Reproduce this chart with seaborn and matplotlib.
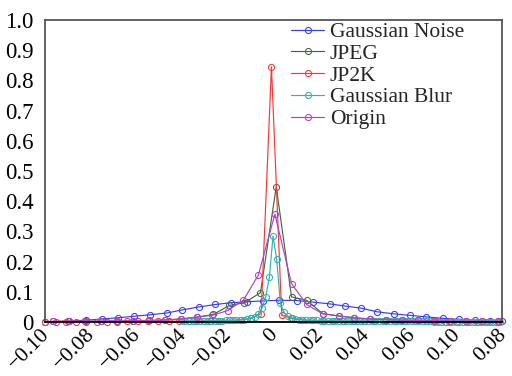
import numpy as np
import pandas as pd
import matplotlib
matplotlib.use("Agg")
import matplotlib.pyplot as plt
import matplotlib.transforms as mtransforms
import seaborn as sns

sns.set_style("white")
plt.rcParams['font.family'] = ['Liberation Serif', 'DejaVu Serif']

# ---------------- data ----------------
noise_x = [-0.1000, -0.0899, -0.0820, -0.0750, -0.0680, -0.0610, -0.0539, -0.0465,
           -0.0399, -0.0325, -0.0254, -0.0184, -0.0114, -0.0044, 0.0026, 0.0101,
           0.0171, 0.0246, 0.0311, 0.0382, 0.0452, 0.0526, 0.0596, 0.0667,
           0.0741, 0.0811, 0.0882, 0.0947, 0.1000]
noise_y = [0.001, 0.003, 0.006, 0.010, 0.014, 0.019, 0.024, 0.030,
           0.040, 0.050, 0.058, 0.064, 0.067, 0.070, 0.072, 0.071,
           0.066, 0.060, 0.053, 0.046, 0.034, 0.027, 0.022, 0.017,
           0.012, 0.009, 0.006, 0.004, 0.002]

jpeg_x = [-0.0965, -0.0895, -0.0825, -0.0754, -0.0684, -0.0614, -0.0544, -0.0474,
          -0.0404, -0.0333, -0.0263, -0.0193, -0.0127, -0.0057, 0.0012, 0.0079,
          0.0145, 0.0215, 0.0285, 0.0351, 0.0421, 0.0491, 0.0561, 0.0632,
          0.0702, 0.0772, 0.0842, 0.0912, 0.0982]
jpeg_y = [0.002, 0.002, 0.002, 0.003, 0.003, 0.004, 0.005, 0.007,
          0.010, 0.016, 0.025, 0.055, 0.064, 0.097, 0.448, 0.083,
          0.072, 0.028, 0.020, 0.014, 0.010, 0.008, 0.006, 0.005,
          0.004, 0.004, 0.003, 0.002, 0.002]

jp2k_x = [-0.0999, -0.0954, -0.0909, -0.0864, -0.0819, -0.0774, -0.0729, -0.0684,
          -0.0639, -0.0594, -0.0549, -0.0504, -0.0459, -0.0414, -0.0369, -0.0324,
          -0.0279, -0.0234, -0.0189, -0.0144, -0.0099, -0.0054, -0.0009, 0.0036,
          0.0081, 0.0126, 0.0171, 0.0216, 0.0261, 0.0306, 0.0351, 0.0396,
          0.0441, 0.0486, 0.0531, 0.0576, 0.0621, 0.0666, 0.0711, 0.0756,
          0.0801, 0.0846, 0.0891, 0.0936, 0.0981]
jp2k_y = [0.000, 0.000, 0.000, 0.001, 0.001, 0.001, 0.001, 0.001,
          0.002, 0.002, 0.002, 0.002, 0.002, 0.003, 0.003, 0.003,
          0.004, 0.004, 0.005, 0.007, 0.012, 0.028, 0.845, 0.022,
          0.012, 0.007, 0.005, 0.004, 0.004, 0.003, 0.003, 0.003,
          0.003, 0.002, 0.002, 0.002, 0.002, 0.002, 0.002, 0.001,
          0.001, 0.001, 0.001, 0.001, 0.001]

blur_x = [-0.0402, -0.0386, -0.0370, -0.0354, -0.0338, -0.0322, -0.0306, -0.0290,
          -0.0274, -0.0258, -0.0242, -0.0226, -0.0210, -0.0194, -0.0178, -0.0162,
          -0.0146, -0.0130, -0.0114, -0.0098, -0.0082, -0.0066, -0.0050, -0.0034,
          -0.0018, -0.0002, 0.0014, 0.0030, 0.0046, 0.0062, 0.0078, 0.0094,
          0.0110, 0.0126, 0.0142, 0.0158, 0.0174, 0.0190, 0.0206, 0.0222,
          0.0238, 0.0254, 0.0270, 0.0286, 0.0302, 0.0318, 0.0334, 0.0350,
          0.0366, 0.0382, 0.0398, 0.0414, 0.0430, 0.0446, 0.0462, 0.0478,
          0.0494, 0.0510, 0.0526, 0.0542, 0.0558, 0.0574, 0.0590, 0.0606,
          0.0622, 0.0638, 0.0654, 0.0670, 0.0686, 0.0702, 0.0718, 0.0734,
          0.0750, 0.0766, 0.0782, 0.0798, 0.0814, 0.0830, 0.0846, 0.0862,
          0.0878, 0.0894, 0.0910, 0.0926, 0.0942, 0.0958, 0.0974, 0.0990]
blur_y = [0.003, 0.003, 0.003, 0.003, 0.003, 0.003, 0.003, 0.003,
          0.004, 0.004, 0.004, 0.004, 0.005, 0.005, 0.005, 0.006,
          0.007, 0.008, 0.010, 0.013, 0.018, 0.027, 0.046, 0.084,
          0.148, 0.285, 0.207, 0.062, 0.032, 0.020, 0.013, 0.010,
          0.008, 0.007, 0.006, 0.005, 0.005, 0.005, 0.004, 0.004,
          0.004, 0.004, 0.004, 0.004, 0.003, 0.003, 0.003, 0.003,
          0.003, 0.003, 0.003, 0.003, 0.003, 0.003, 0.002, 0.002,
          0.002, 0.002, 0.002, 0.002, 0.002, 0.002, 0.002, 0.002,
          0.002, 0.002, 0.002, 0.002, 0.002, 0.001, 0.001, 0.001,
          0.001, 0.001, 0.001, 0.001, 0.001, 0.001, 0.001, 0.001,
          0.001, 0.001, 0.001, 0.001, 0.001, 0.001, 0.001, 0.001]

origin_x = [-0.0965, -0.0895, -0.0825, -0.0754, -0.0684, -0.0614, -0.0544, -0.0474,
            -0.0404, -0.0333, -0.0268, -0.0200, -0.0132, -0.0066, 0.0006, 0.0079,
            0.0145, 0.0215, 0.0285, 0.0353, 0.0421, 0.0491, 0.0561, 0.0632,
            0.0702, 0.0772, 0.0842, 0.0912, 0.0982]
origin_y = [0.002, 0.002, 0.003, 0.003, 0.004, 0.004, 0.005, 0.006,
            0.010, 0.017, 0.022, 0.038, 0.072, 0.156, 0.357, 0.127,
            0.058, 0.027, 0.020, 0.014, 0.010, 0.008, 0.006, 0.005,
            0.004, 0.003, 0.003, 0.002, 0.002]

series = ["Gaussian Noise", "JPEG", "JP2K", "Gaussian Blur", "Origin"]
colors = ["#3a3aff", "#3d6e3d", "#ff3535", "#2fb3b3", "#b640c6"]
xs = [noise_x, jpeg_x, jp2k_x, blur_x, origin_x]
ys = [noise_y, jpeg_y, jp2k_y, blur_y, origin_y]

x_ticks = [-0.10, -0.08, -0.06, -0.04, -0.02, 0.0, 0.02, 0.04, 0.06, 0.08, 0.10]
x_labels = ["\u22120.10", "\u22120.08", "\u22120.06", "\u22120.04", "\u22120.02",
            "0", "0.02", "0.04", "0.06", "0.10", "0.08"]
y_ticks = [0, 0.1, 0.2, 0.3, 0.4, 0.5, 0.6, 0.7, 0.8, 0.9, 1.0]
y_labels = ["0", "0.1", "0.2", "0.3", "0.4", "0.5", "0.6", "0.7", "0.8", "0.9", "1.0"]

# ---------------- plot ----------------
fig = plt.figure(figsize=(5.12, 3.76), dpi=100)
ax = fig.add_axes([45 / 512, 1 - 322 / 376, 457 / 512, 302 / 376])

for name, c, x, y in zip(series, colors, xs, ys):
    df = pd.DataFrame({"x": x, "y": y})
    sns.lineplot(data=df, x="x", y="y", ax=ax, color=c, lw=0.85, marker="o",
                 markersize=4.4, markerfacecolor="none", markeredgecolor=c,
                 markeredgewidth=0.75, label=name, sort=False, clip_on=False)

ax.set_xlim(-0.10, 0.10)
ax.set_ylim(0, 1.0)
ax.set_xticks(x_ticks)
ax.set_xticklabels(x_labels, rotation=45, ha="right", va="center",
                   rotation_mode="anchor", fontsize=15.5)
ax.set_yticks(y_ticks)
ax.set_yticklabels(y_labels, fontsize=16.5)
ax.set_xlabel("")
ax.set_ylabel("")
ax.tick_params(axis="both", direction="in", length=4, width=0.8, colors="#999999",
               labelcolor="black")
ax.tick_params(axis="y", pad=8)
ax.tick_params(axis="x", pad=7)

offset = mtransforms.ScaledTranslation(1.5 / 100, 0, fig.dpi_scale_trans)
for lab in ax.get_xticklabels():
    lab.set_transform(lab.get_transform() + offset)

for s in ["top", "right", "left"]:
    ax.spines[s].set_color("#555555")
    ax.spines[s].set_linewidth(1.3)
ax.spines["bottom"].set_color("black")
ax.spines["bottom"].set_linewidth(1.3)

leg = ax.legend(loc="upper left", bbox_to_anchor=(291 / 512, 1 - 22 / 376),
                bbox_transform=fig.transFigure, frameon=False, fontsize=15.5,
                handlelength=1.55, handletextpad=0.25, labelspacing=0.08,
                borderpad=0, borderaxespad=0)

fig.savefig("out.png", dpi=100)
